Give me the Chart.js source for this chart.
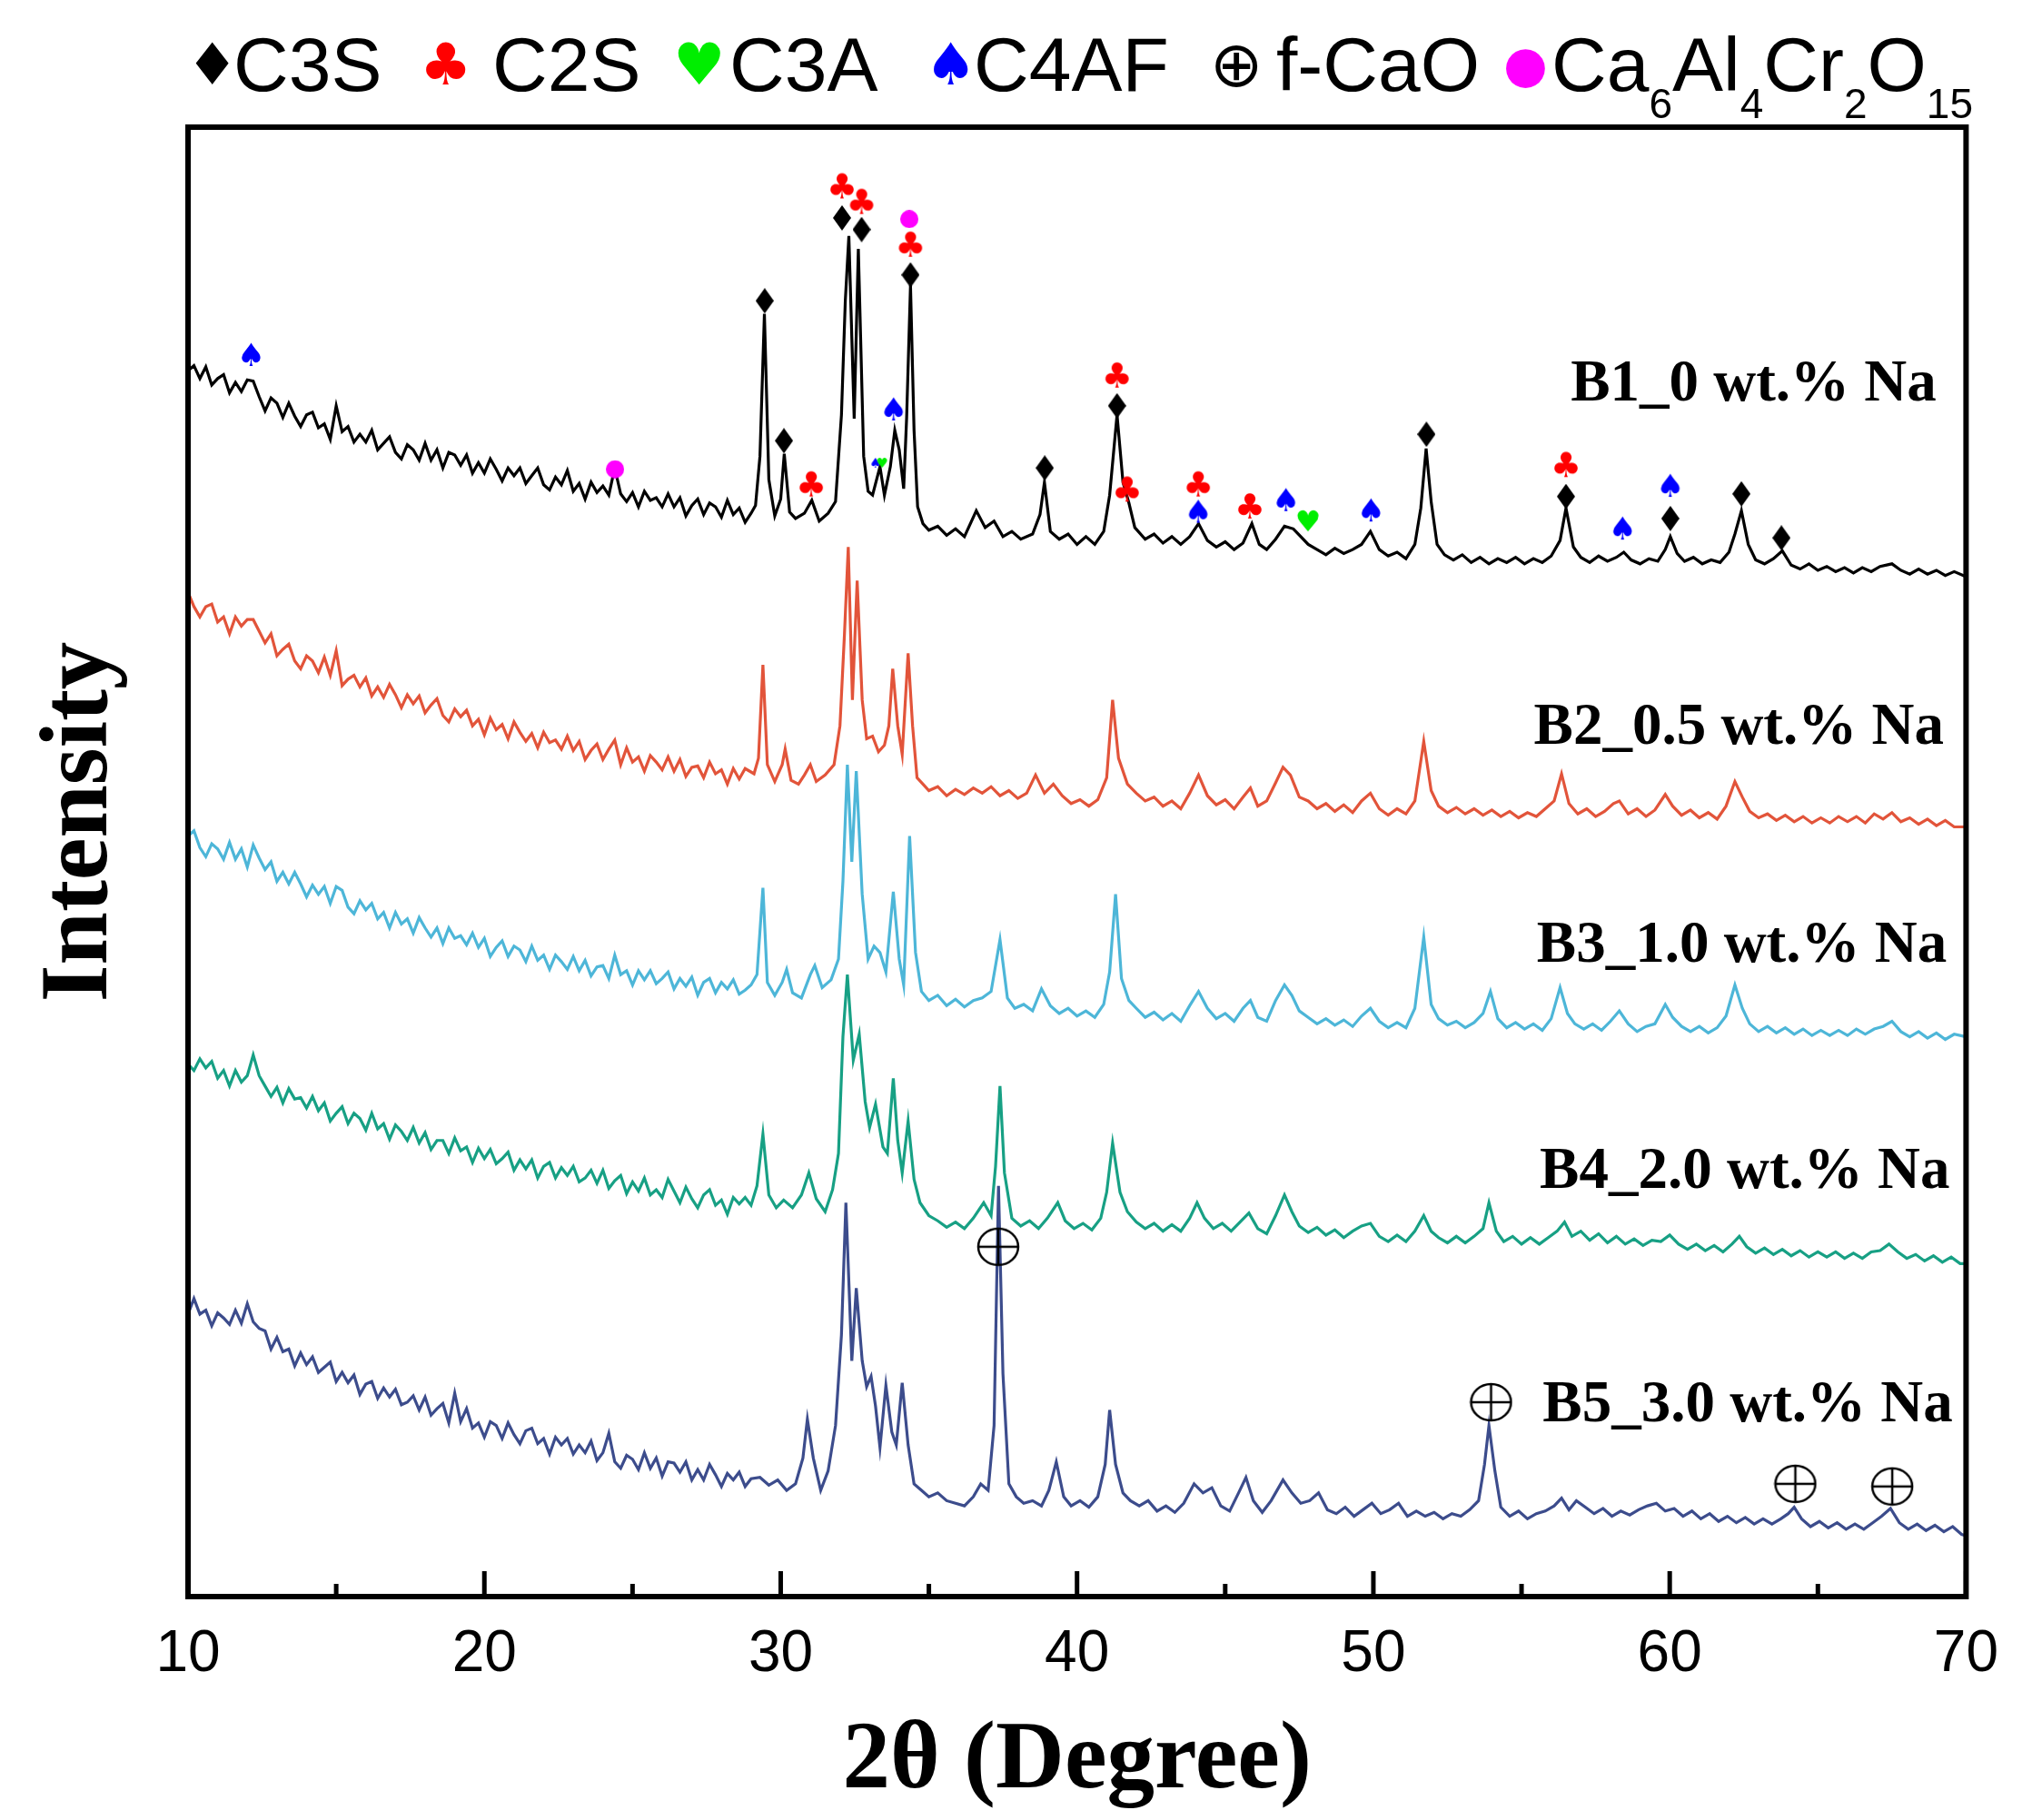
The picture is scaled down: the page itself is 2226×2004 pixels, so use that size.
<!DOCTYPE html>
<html>
<head>
<meta charset="utf-8">
<script src="https://cdn.jsdelivr.net/npm/chart.js@4.4.0/dist/chart.umd.min.js"></script>
<style>
  body { margin: 0; background: #fff; }
  #wrap { position: relative; width: 2226px; height: 2004px; }
  #legend { position: absolute; left: 0; top: 0; width: 2226px; height: 140px; color: #000; }
  #legend span { position: absolute; white-space: nowrap; line-height: 1; }
  #legend .txt { font-family: "Liberation Sans", Arial, sans-serif; font-size: 84px; top: 29px; }
  #legend .sym { font-family: "DejaVu Sans", sans-serif; }
  #legend sub { font-size: 46px; vertical-align: -30px; line-height: 0; }
</style>
</head>
<body>
<div id="wrap">
  <canvas id="xrd" width="2226" height="2004"></canvas>
  <div id="legend"></div>
</div>
<script>
// XRD patterns, [2theta, intensity] with the stacking offset already in
const B1 = [
  [10.0,946],[10.2,950],[10.4,940],[10.6,949],[10.8,935],[11.0,940],[11.2,943],[11.4,929],[11.6,937],[11.8,930],
  [12.0,939],[12.2,938],[12.4,926],[12.6,915],[12.8,925],[13.0,921],[13.2,910],[13.4,921],[13.6,911],[13.8,903],
  [14.0,912],[14.2,914],[14.4,902],[14.6,905],[14.8,893],[15.0,919],[15.2,899],[15.4,903],[15.6,891],[15.8,897],
  [16.0,891],[16.2,900],[16.4,885],[16.6,890],[16.8,895],[17.0,883],[17.2,878],[17.4,889],[17.6,885],[17.8,877],
  [18.0,890],[18.2,877],[18.4,885],[18.6,871],[18.8,883],[19.0,881],[19.2,873],[19.4,881],[19.6,867],[19.8,875],
  [20.0,867],[20.2,878],[20.4,870],[20.6,861],[20.8,871],[21.0,865],[21.2,871],[21.4,859],[21.6,865],[21.8,871],
  [22.0,858],[22.2,854],[22.4,864],[22.6,858],[22.8,869],[23.0,853],[23.2,859],[23.4,847],[23.6,860],[23.8,852],
  [24.0,857],[24.2,850],[24.4,871],[24.6,851],[24.8,845],[25.0,852],[25.2,841],[25.4,853],[25.6,846],[25.8,848],
  [26.0,841],[26.2,851],[26.4,841],[26.6,848],[26.8,834],[27.0,842],[27.2,847],[27.4,835],[27.6,844],[27.8,841],
  [28.0,833],[28.2,846],[28.4,835],[28.6,840],[28.8,829],[29.0,836],
  [29.15,842],[29.3,880],[29.45,990],
  [29.6,862],[29.8,834],[30.0,847],[30.12,882],[30.3,837],[30.5,832],[30.8,836],[31.05,846],[31.3,830],[31.6,836],
  [31.85,845],[32.05,912],[32.18,1000],[32.3,1050],[32.48,909],[32.62,1040],[32.8,880],[32.95,853],[33.1,850],[33.35,872],
  [33.5,850],[33.7,872],[33.85,900],[34.0,885],[34.15,855],[34.25,910],[34.38,1012],[34.5,900],[34.62,841],[34.8,828],
  [35.0,823],[35.3,826],[35.6,819],[35.9,824],[36.2,818],[36.6,838],[36.9,825],[37.2,830],[37.5,818],[37.8,822],
  [38.1,816],[38.5,820],[38.75,835],[38.9,860],[39.1,822],[39.4,816],[39.7,820],[40.0,812],[40.3,818],[40.6,812],
  [40.9,822],[41.1,850],[41.35,912],[41.55,860],[41.75,844],[41.95,825],[42.3,816],[42.6,820],[42.9,813],[43.2,818],
  [43.5,812],[43.8,818],[44.1,828],[44.4,815],[44.7,810],[45.0,814],[45.3,808],[45.6,813],[45.9,828],[46.15,812],
  [46.4,808],[46.7,816],[47.0,826],[47.3,824],[47.55,818],[47.8,812],[48.1,808],[48.4,804],[48.7,809],[49.0,805],
  [49.3,808],[49.6,812],[49.9,822],[50.2,808],[50.5,803],[50.8,806],[51.1,801],[51.4,812],[51.6,840],[51.78,886],
  [51.95,845],[52.15,812],[52.4,804],[52.7,800],[53.0,804],[53.3,798],[53.6,802],[53.9,797],[54.2,801],[54.5,798],
  [54.8,802],[55.1,797],[55.4,801],[55.7,798],[56.0,803],[56.3,815],[56.5,840],[56.75,810],[57.0,802],[57.3,798],
  [57.6,803],[57.9,799],[58.2,802],[58.45,806],[58.7,800],[59.0,797],[59.3,801],[59.6,799],[59.85,808],[60.02,818],
  [60.25,805],[60.5,799],[60.8,802],[61.1,797],[61.4,800],[61.7,798],[62.0,806],[62.2,820],[62.42,838],[62.65,812],
  [62.9,800],[63.2,797],[63.5,801],[63.8,807],[64.1,796],[64.4,793],[64.7,797],[65.0,792],[65.3,795],[65.6,791],
  [65.9,794],[66.2,790],[66.5,794],[66.8,791],[67.1,795],[67.5,797],[67.8,792],[68.1,789],[68.4,793],[68.7,789],
  [69.0,792],[69.3,788],[69.6,791],[70.0,787]
];
const B2 = [
  [10.0,775],[10.2,764],[10.4,756],[10.6,764],[10.8,766],[11.0,752],[11.2,756],[11.4,743],[11.6,756],[11.8,749],
  [12.0,754],[12.2,754],[12.4,745],[12.6,736],[12.8,743],[13.0,726],[13.2,731],[13.4,735],[13.6,722],[13.8,716],
  [14.0,726],[14.2,722],[14.4,713],[14.6,725],[14.8,711],[15.0,730],[15.2,703],[15.4,708],[15.6,711],[15.8,702],
  [16.0,709],[16.2,695],[16.4,702],[16.6,694],[16.8,704],[17.0,696],[17.2,686],[17.4,696],[17.6,689],[17.8,695],
  [18.0,682],[18.2,688],[18.4,693],[18.6,680],[18.8,675],[19.0,685],[19.2,679],[19.4,684],[19.6,672],[19.8,677],
  [20.0,665],[20.2,678],[20.4,669],[20.6,673],[20.8,662],[21.0,675],[21.2,667],[21.4,660],[21.6,666],[21.8,655],
  [22.0,667],[22.2,659],[22.4,661],[22.6,654],[22.8,664],[23.0,653],[23.2,660],[23.4,646],[23.6,653],[23.8,658],
  [24.0,646],[24.2,654],[24.4,661],[24.6,642],[24.8,655],[25.0,644],[25.2,648],[25.4,637],[25.6,649],[25.8,644],
  [26.0,638],[26.2,648],[26.4,637],[26.6,646],[26.8,633],[27.0,640],[27.2,641],[27.4,632],[27.6,644],[27.8,635],
  [28.0,638],[28.2,627],[28.4,639],[28.6,631],[28.8,639],
  [29.1,635],[29.25,647],[29.4,719],
  [29.55,642],[29.8,629],[30.05,642],[30.15,654],[30.35,630],[30.6,627],[30.8,634],[31.0,642],[31.2,629],[31.5,634],
  [31.8,642],[32.0,672],[32.15,742],[32.28,810],[32.42,692],[32.58,784],[32.75,692],[32.9,662],[33.1,664],[33.3,652],
  [33.5,657],[33.65,672],[33.78,716],[33.95,672],[34.1,650],[34.3,728],[34.45,672],[34.6,632],[34.8,627],[35.0,622],
  [35.3,625],[35.6,618],[35.9,623],[36.2,619],[36.5,624],[36.8,620],[37.1,625],[37.4,618],[37.7,622],[38.0,616],
  [38.3,620],[38.6,634],[38.9,620],[39.2,627],[39.5,618],[39.8,612],[40.1,615],[40.4,610],[40.7,615],[41.0,632],
  [41.2,692],[41.4,647],[41.7,627],[42.0,620],[42.3,614],[42.6,617],[42.9,610],[43.2,614],[43.5,608],[43.8,620],
  [44.1,634],[44.4,618],[44.7,611],[45.0,615],[45.3,608],[45.6,617],[45.85,624],[46.1,610],[46.4,614],[46.7,628],
  [46.95,640],[47.2,634],[47.5,617],[47.8,614],[48.1,608],[48.4,612],[48.7,606],[49.0,611],[49.3,605],[49.6,614],
  [49.9,620],[50.2,608],[50.5,603],[50.8,608],[51.1,604],[51.4,614],[51.7,660],[51.95,622],[52.2,610],[52.5,605],
  [52.8,609],[53.1,604],[53.4,608],[53.7,603],[54.0,607],[54.3,602],[54.6,606],[54.9,601],[55.2,605],[55.5,602],
  [55.8,608],[56.1,614],[56.35,635],[56.6,612],[56.9,604],[57.2,608],[57.5,602],[57.8,606],[58.1,612],[58.3,614],
  [58.6,604],[58.9,608],[59.2,602],[59.5,607],[59.85,619],[60.1,610],[60.4,603],[60.7,607],[61.0,601],[61.3,605],
  [61.6,600],[61.9,610],[62.2,629],[62.45,617],[62.7,606],[63.0,601],[63.3,604],[63.6,599],[63.9,603],[64.2,598],
  [64.5,602],[64.8,597],[65.1,601],[65.4,597],[65.7,602],[66.0,598],[66.3,602],[66.6,597],[66.9,604],[67.2,600],
  [67.5,605],[67.8,598],[68.1,601],[68.4,596],[68.7,600],[69.0,595],[69.3,599],[69.6,594],[70.0,594]
];
const B3 = [
  [10.0,587],[10.2,591],[10.4,578],[10.6,571],[10.8,581],[11.0,577],[11.2,569],[11.4,582],[11.6,569],[11.8,577],
  [12.0,563],[12.2,580],[12.4,570],[12.6,561],[12.8,567],[13.0,552],[13.2,559],[13.4,550],[13.6,559],[13.8,550],
  [14.0,540],[14.2,549],[14.4,542],[14.6,548],[14.8,535],[15.0,548],[15.2,545],[15.4,532],[15.6,527],[15.8,537],
  [16.0,530],[16.2,535],[16.4,523],[16.6,528],[16.8,516],[17.0,528],[17.2,519],[17.4,523],[17.6,512],[17.8,524],
  [18.0,516],[18.2,509],[18.4,516],[18.6,504],[18.8,516],[19.0,508],[19.2,510],[19.4,503],[19.6,512],[19.8,501],
  [20.0,508],[20.2,494],[20.4,501],[20.6,506],[20.8,494],[21.0,502],[21.2,499],[21.4,490],[21.6,502],[21.8,491],
  [22.0,495],[22.2,484],[22.4,495],[22.6,490],[22.8,484],[23.0,494],[23.2,483],[23.4,491],[23.6,479],[23.8,486],
  [24.0,487],[24.2,477],[24.4,495],[24.6,480],[24.8,483],[25.0,472],[25.2,483],[25.4,476],[25.6,483],[25.8,473],
  [26.0,477],[26.2,482],[26.4,469],[26.6,477],[26.8,471],[27.0,478],[27.2,464],[27.4,474],[27.6,477],[27.8,466],
  [28.0,474],[28.2,469],[28.4,476],[28.6,465],[28.8,468],[29.0,472],
  [29.2,480],[29.4,547],[29.55,474],[29.8,464],
  [30.05,474],[30.2,484],[30.4,466],[30.7,462],[31.0,480],[31.15,487],[31.4,470],[31.7,476],[31.95,492],[32.1,552],
  [32.25,642],[32.4,567],[32.55,637],[32.75,542],[32.95,492],[33.15,502],[33.35,497],[33.55,482],[33.8,544],[34.0,492],
  [34.15,472],[34.35,587],[34.55,497],[34.75,467],[35.0,460],[35.3,464],[35.6,456],[35.9,461],[36.2,455],[36.5,460],
  [36.8,462],[37.1,467],[37.4,507],[37.65,462],[37.9,454],[38.2,457],[38.5,452],[38.8,469],[39.1,456],[39.4,450],
  [39.7,454],[40.0,448],[40.3,452],[40.6,447],[40.9,457],[41.1,482],[41.3,542],[41.5,477],[41.75,460],[42.0,454],
  [42.3,447],[42.6,451],[42.9,445],[43.2,450],[43.5,444],[43.8,456],[44.1,467],[44.4,454],[44.7,446],[45.0,450],
  [45.3,444],[45.6,454],[45.85,460],[46.1,447],[46.4,444],[46.7,460],[47.0,472],[47.25,464],[47.5,452],[47.8,447],
  [48.1,442],[48.4,446],[48.7,441],[49.0,445],[49.3,440],[49.6,448],[49.9,454],[50.2,444],[50.5,439],[50.8,443],
  [51.1,439],[51.4,454],[51.7,509],[51.95,457],[52.2,446],[52.5,441],[52.8,444],[53.1,439],[53.4,443],[53.7,450],
  [53.95,467],[54.2,446],[54.5,439],[54.8,443],[55.1,438],[55.4,442],[55.7,437],[56.0,446],[56.3,470],[56.55,450],
  [56.8,442],[57.1,438],[57.4,442],[57.7,437],[58.0,444],[58.3,452],[58.6,442],[58.9,436],[59.2,440],[59.5,442],
  [59.85,457],[60.1,447],[60.4,440],[60.7,436],[61.0,440],[61.3,435],[61.6,439],[61.9,448],[62.2,472],[62.45,454],
  [62.7,442],[63.0,436],[63.3,440],[63.6,435],[63.9,439],[64.2,434],[64.5,438],[64.8,433],[65.1,437],[65.4,433],
  [65.7,437],[66.0,433],[66.3,438],[66.6,434],[66.9,438],[67.2,440],[67.5,444],[67.8,436],[68.1,432],[68.4,436],
  [68.7,431],[69.0,435],[69.3,430],[69.6,434],[70.0,432]
];
const B4 = [
  [10.0,411],[10.2,406],[10.4,415],[10.6,408],[10.8,413],[11.0,400],[11.2,406],[11.4,394],[11.6,406],[11.8,397],
  [12.0,402],[12.2,418],[12.4,402],[12.6,394],[12.8,386],[13.0,393],[13.2,381],[13.4,392],[13.6,384],[13.8,385],
  [14.0,377],[14.2,386],[14.4,375],[14.6,381],[14.8,367],[15.0,373],[15.2,378],[15.4,365],[15.6,373],[15.8,369],
  [16.0,360],[16.2,373],[16.4,361],[16.6,365],[16.8,353],[17.0,364],[17.2,359],[17.4,352],[17.6,362],[17.8,350],
  [18.0,358],[18.2,345],[18.4,352],[18.6,352],[18.8,342],[19.0,354],[19.2,344],[19.4,347],[19.6,335],[19.8,346],
  [20.0,338],[20.2,345],[20.4,334],[20.6,338],[20.8,343],[21.0,329],[21.2,337],[21.4,330],[21.6,337],[21.8,323],
  [22.0,332],[22.2,335],[22.4,323],[22.6,331],[22.8,325],[23.0,332],[23.2,320],[23.4,323],[23.6,329],[23.8,319],
  [24.0,329],[24.2,315],[24.4,321],[24.6,325],[24.8,311],[25.0,320],[25.2,313],[25.4,323],[25.6,310],[25.8,314],
  [26.0,308],[26.2,322],[26.4,313],[26.6,304],[26.8,316],[27.0,307],[27.2,300],[27.4,310],[27.6,314],[27.8,302],
  [28.0,306],[28.2,295],[28.4,308],[28.6,303],[28.8,308],[29.0,302],
  [29.2,317],[29.4,357],[29.6,310],[29.85,300],
  [30.1,306],[30.4,300],[30.7,310],[30.95,327],[31.2,307],[31.5,297],[31.75,314],[31.95,342],[32.1,432],[32.25,480],
  [32.45,414],[32.65,434],[32.85,382],[33.0,362],[33.2,380],[33.45,347],[33.6,342],[33.8,400],[33.95,352],[34.1,327],
  [34.3,367],[34.5,322],[34.7,304],[35.0,294],[35.3,290],[35.6,285],[35.9,289],[36.2,284],[36.5,292],[36.85,304],
  [37.1,294],[37.25,332],[37.4,394],[37.55,327],[37.8,292],[38.1,286],[38.4,290],[38.7,284],[39.0,292],[39.35,304],
  [39.6,290],[39.9,284],[40.2,288],[40.5,283],[40.8,292],[41.0,312],[41.2,350],[41.45,312],[41.7,297],[42.0,289],
  [42.3,284],[42.6,288],[42.9,282],[43.2,287],[43.5,282],[43.8,292],[44.05,304],[44.3,292],[44.6,284],[44.9,288],
  [45.2,282],[45.5,289],[45.8,296],[46.1,284],[46.4,280],[46.7,294],[47.0,310],[47.25,297],[47.5,286],[47.8,281],
  [48.1,285],[48.4,279],[48.7,283],[49.0,277],[49.3,282],[49.6,286],[49.9,288],[50.2,278],[50.5,274],[50.8,279],
  [51.1,274],[51.4,282],[51.7,294],[51.95,282],[52.2,277],[52.5,273],[52.8,278],[53.1,273],[53.4,278],[53.7,284],
  [53.9,304],[54.15,282],[54.4,274],[54.7,278],[55.0,272],[55.3,277],[55.6,272],[55.9,277],[56.2,282],[56.45,289],
  [56.7,278],[57.0,282],[57.3,275],[57.6,280],[57.9,273],[58.2,278],[58.5,272],[58.8,276],[59.1,271],[59.4,275],
  [59.7,274],[60.0,279],[60.3,272],[60.6,268],[60.9,272],[61.2,267],[61.5,271],[61.8,266],[62.1,272],[62.35,278],
  [62.6,270],[62.9,265],[63.2,269],[63.5,264],[63.8,268],[64.1,263],[64.4,267],[64.7,262],[65.0,266],[65.3,262],
  [65.6,266],[65.9,261],[66.2,265],[66.5,261],[66.8,266],[67.1,267],[67.4,272],[67.7,266],[68.0,261],[68.3,264],
  [68.6,259],[68.9,263],[69.2,258],[69.5,262],[69.8,257],[70.0,257]
];
const B5 = [
  [10.0,218],[10.2,230],[10.4,218],[10.6,221],[10.8,209],[11.0,219],[11.2,215],[11.4,210],[11.6,221],[11.8,211],
  [12.0,226],[12.2,212],[12.4,207],[12.6,205],[12.8,191],[13.0,200],[13.2,189],[13.4,191],[13.6,178],[13.8,188],
  [14.0,179],[14.2,185],[14.4,173],[14.6,177],[14.8,181],[15.0,166],[15.2,173],[15.4,165],[15.6,171],[15.8,156],
  [16.0,164],[16.2,166],[16.4,153],[16.6,161],[16.8,154],[17.0,160],[17.2,148],[17.4,150],[17.6,155],[17.8,144],
  [18.0,154],[18.2,140],[18.4,145],[18.6,149],[18.8,134],[19.0,157],[19.2,135],[19.4,145],[19.6,130],[19.8,134],
  [20.0,123],[20.2,135],[20.4,132],[20.6,122],[20.8,134],[21.0,125],[21.2,118],[21.4,128],[21.6,130],[21.8,118],
  [22.0,122],[22.2,110],[22.4,123],[22.6,117],[22.8,122],[23.0,110],[23.2,117],[23.4,111],[23.6,120],[23.8,105],
  [24.0,111],[24.2,126],[24.4,104],[24.6,99],[24.8,109],[25.0,106],[25.2,98],[25.4,111],[25.6,99],[25.8,107],
  [26.0,93],[26.2,104],[26.4,103],[26.6,96],[26.8,104],[27.0,90],[27.2,98],[27.4,90],[27.6,102],[27.8,94],
  [28.0,85],[28.2,95],[28.4,90],[28.6,96],[28.8,85],[29.0,91],
  [29.3,92],[29.6,86],[29.9,90],[30.2,82],
  [30.5,87],[30.75,107],[30.9,137],[31.1,107],[31.35,82],[31.6,97],[31.85,132],[32.05,202],[32.2,304],[32.4,182],
  [32.55,238],[32.75,182],[32.9,162],[33.05,170],[33.2,147],[33.35,115],[33.55,163],[33.75,127],[33.9,117],[34.1,165],
  [34.3,117],[34.5,87],[34.75,82],[35.0,77],[35.3,80],[35.6,74],[35.9,72],[36.2,70],[36.5,77],[36.75,87],
  [37.0,82],[37.2,132],[37.35,317],[37.5,172],[37.7,87],[37.95,77],[38.2,72],[38.5,74],[38.8,70],[39.05,82],
  [39.3,104],[39.55,77],[39.8,70],[40.1,74],[40.4,69],[40.7,77],[40.95,102],[41.1,144],[41.3,102],[41.55,80],
  [41.8,74],[42.1,70],[42.4,74],[42.7,66],[43.0,70],[43.3,65],[43.6,72],[43.95,87],[44.25,80],[44.55,84],
  [44.85,70],[45.15,66],[45.45,80],[45.7,92],[45.95,74],[46.25,65],[46.55,74],[46.95,90],[47.25,80],[47.55,72],
  [47.85,74],[48.15,80],[48.45,67],[48.75,64],[49.05,69],[49.35,62],[49.65,67],[49.95,72],[50.25,64],[50.55,67],
  [50.85,72],[51.15,62],[51.45,66],[51.75,62],[52.05,65],[52.35,60],[52.65,64],[52.95,62],[53.25,67],[53.55,74],
  [53.75,102],[53.9,132],[54.1,97],[54.3,69],[54.6,62],[54.9,66],[55.2,60],[55.5,64],[55.8,66],[56.1,70],
  [56.35,76],[56.6,67],[56.85,74],[57.15,69],[57.45,64],[57.75,68],[58.05,62],[58.35,66],[58.65,63],[58.95,67],
  [59.25,70],[59.55,72],[59.85,66],[60.15,68],[60.45,62],[60.75,66],[61.05,60],[61.35,64],[61.65,58],[61.95,62],
  [62.25,57],[62.55,61],[62.85,56],[63.15,60],[63.45,56],[63.75,60],[64.0,64],[64.2,69],[64.45,60],[64.75,54],
  [65.05,58],[65.35,53],[65.65,57],[65.95,52],[66.25,56],[66.55,52],[66.85,57],[67.15,62],[67.45,68],[67.75,57],
  [68.05,52],[68.35,56],[68.65,51],[68.95,55],[69.25,50],[69.55,54],[69.85,48],[70.0,47]
];

const seriesNames = ['B1_0 wt.% Na', 'B2_0.5 wt.% Na', 'B3_1.0 wt.% Na', 'B4_2.0 wt.% Na', 'B5_3.0 wt.% Na'];
const seriesColors = ['#000000', '#e2543a', '#4db6d8', '#17a084', '#3c4c8c'];
// where each sample name sits: right edge in 2theta, middle in intensity
const labelAngle = [69.0, 69.25, 69.35, 69.45, 69.55];
const labelIntensity = [935, 670, 502, 327, 147];

// phase markers above the peaks
const c3sMarks = [[29.46,1000],[30.11,892],[32.07,1064],[32.73,1055],[34.38,1020],[38.91,871],[41.35,919],
                  [51.79,897],[56.5,849],[60.02,832],[62.42,851],[63.77,817]];
const c2sMarks = [[32.07,1086],[32.73,1074],[34.38,1041],[31.03,856],[41.35,940],[41.69,852],[44.09,856],
                  [45.83,839],[56.5,871]];
const c3aMarks = [[47.79,828]];
const c3aSmallMarks = [[33.42,874]];
const c4afMarks = [[12.13,956],[33.81,914],[44.09,835],[47.05,844],[49.92,836],[58.41,822],[60.02,855]];
const c4afSmallMarks = [[33.2,874]];
const cacrMarks = [[24.41,870],[34.34,1063]];
const fcaoMarks = [[37.34,270],[53.97,150],[64.24,87],[67.51,85]];

const xTicks = [10, 20, 30, 40, 50, 60, 70];

const legendItems = [
  { sym: '\u2666', color: '#000', size: 64, symLeft: 205, text: 'C3S', textLeft: 257 },
  { sym: '\u2663', color: '#f00', size: 64, symLeft: 462, text: 'C2S', textLeft: 542 },
  { sym: '\u2665', color: '#0e0', size: 64, symLeft: 741, text: 'C3A', textLeft: 803 },
  { sym: '\u2660', color: '#00f', size: 64, symLeft: 1018, text: 'C4AF', textLeft: 1072 },
  { sym: '\u2295', color: '#000', size: 70, symLeft: 1332, text: 'f-CaO', textLeft: 1405 },
  { sym: '\u25cf', color: '#f0f', size: 56, symLeft: 1655, text: 'Ca<sub>6</sub>Al<sub>4</sub>Cr<sub>2</sub>O<sub>15</sub>', textLeft: 1708 }
];

const legend = document.getElementById('legend');
legendItems.forEach(it => {
  const s = document.createElement('span');
  s.className = 'sym';
  s.style.left = it.symLeft + 'px';
  s.style.top = (29 + 42 - it.size / 2) + 'px';
  s.style.fontSize = it.size + 'px';
  s.style.color = it.color;
  s.textContent = it.sym;
  legend.appendChild(s);
  const t = document.createElement('span');
  t.className = 'txt';
  t.style.left = it.textLeft + 'px';
  t.innerHTML = it.text;
  legend.appendChild(t);
});

function glyph(ch, color, px) {
  const c = document.createElement('canvas');
  c.width = Math.ceil(px * 1.1); c.height = Math.ceil(px * 1.2);
  const g = c.getContext('2d');
  g.fillStyle = color;
  g.font = px + 'px "DejaVu Sans"';
  g.textAlign = 'center'; g.textBaseline = 'middle';
  g.fillText(ch, c.width / 2, c.height / 2);
  return c;
}
function diamond(w, h) {
  const c = document.createElement('canvas');
  c.width = w; c.height = h;
  const g = c.getContext('2d');
  g.fillStyle = '#000';
  g.beginPath(); g.moveTo(w / 2, 0); g.lineTo(w, h / 2); g.lineTo(w / 2, h); g.lineTo(0, h / 2); g.closePath(); g.fill();
  return c;
}
function dot(d, color) {
  const c = document.createElement('canvas');
  c.width = d; c.height = d;
  const g = c.getContext('2d');
  g.fillStyle = color;
  g.beginPath(); g.arc(d / 2, d / 2, d / 2, 0, Math.PI * 2); g.fill();
  return c;
}
function oplus(w, h) {
  const c = document.createElement('canvas');
  c.width = w + 4; c.height = h + 4;
  const g = c.getContext('2d');
  g.strokeStyle = '#000'; g.lineWidth = 2.5;
  g.beginPath(); g.ellipse(c.width / 2, c.height / 2, w / 2, h / 2, 0, 0, Math.PI * 2); g.stroke();
  g.beginPath();
  g.moveTo(2, c.height / 2); g.lineTo(c.width - 2, c.height / 2);
  g.moveTo(c.width / 2, 2); g.lineTo(c.width / 2, c.height - 2);
  g.stroke();
  return c;
}

function marks(label, data, style) {
  return { label, data, showLine: false, pointStyle: style, pointRadius: 6, pointHoverRadius: 6, order: 0 };
}

const lineSets = [B1, B2, B3, B4, B5].map((d, i) => ({
  label: seriesNames[i], data: d, borderColor: seriesColors[i], borderWidth: 3.2,
  pointRadius: 0, tension: 0, fill: false, order: 1
}));

const decor = {
  id: 'decor',
  afterDraw(chart) {
    const { ctx, chartArea: a, scales: { x, y } } = chart;
    ctx.save();
    ctx.fillStyle = '#000';
    ctx.font = 'bold 65px "Liberation Serif"';
    ctx.textAlign = 'right'; ctx.textBaseline = 'middle';
    seriesNames.forEach((n, i) => {
      ctx.fillText(n, x.getPixelForValue(labelAngle[i]), y.getPixelForValue(labelIntensity[i]));
    });
    ctx.strokeStyle = '#000';
    ctx.lineWidth = 6;
    ctx.strokeRect(a.left, a.top, a.right - a.left, a.bottom - a.top);
    ctx.lineWidth = 5;
    for (let v = 10; v <= 70; v += 5) {
      const px = x.getPixelForValue(v);
      const len = v % 10 === 0 ? 28 : 14;
      ctx.beginPath(); ctx.moveTo(px, a.bottom); ctx.lineTo(px, a.bottom - len); ctx.stroke();
    }
    ctx.font = 'bold 105px "Liberation Serif"';
    ctx.textAlign = 'center';
    ctx.fillText('2\u03b8 (Degree)', (a.left + a.right) / 2, a.bottom + 183);
    ctx.translate(90, 905);
    ctx.rotate(-Math.PI / 2);
    ctx.fillText('Intensity', 0, 0);
    ctx.restore();
  }
};

new Chart(document.getElementById('xrd'), {
  type: 'line',
  data: {
    datasets: [
      marks('C3S', c3sMarks, diamond(20, 28)),
      marks('C2S', c2sMarks, glyph('\u2663', '#f00', 38)),
      marks('C3A', c3aMarks, glyph('\u2665', '#0e0', 32)),
      marks('C3A', c3aSmallMarks, glyph('\u2665', '#0e0', 15)),
      marks('C4AF', c4afMarks, glyph('\u2660', '#00f', 35)),
      marks('C4AF', c4afSmallMarks, glyph('\u2660', '#00f', 15)),
      marks('Ca6Al4Cr2O15', cacrMarks, dot(20, '#f0f')),
      marks('f-CaO', fcaoMarks, oplus(44, 40)),
      ...lineSets
    ]
  },
  options: {
    responsive: false,
    devicePixelRatio: 1,
    animation: false,
    layout: { padding: { left: 207, top: 140, right: 54, bottom: 0 } },
    plugins: { legend: { display: false }, tooltip: { enabled: false } },
    scales: {
      x: {
        type: 'linear', min: 10, max: 70,
        afterBuildTicks: s => { s.ticks = xTicks.map(v => ({ value: v })); },
        afterFit: s => { s.height = 246; },
        grid: { display: false, drawTicks: false },
        border: { display: false },
        ticks: { color: '#000', padding: 26, font: { family: 'Liberation Sans', size: 64 } }
      },
      y: {
        display: false, min: 0, max: 1134
      }
    }
  },
  plugins: [decor]
});
</script>
</body>
</html>
